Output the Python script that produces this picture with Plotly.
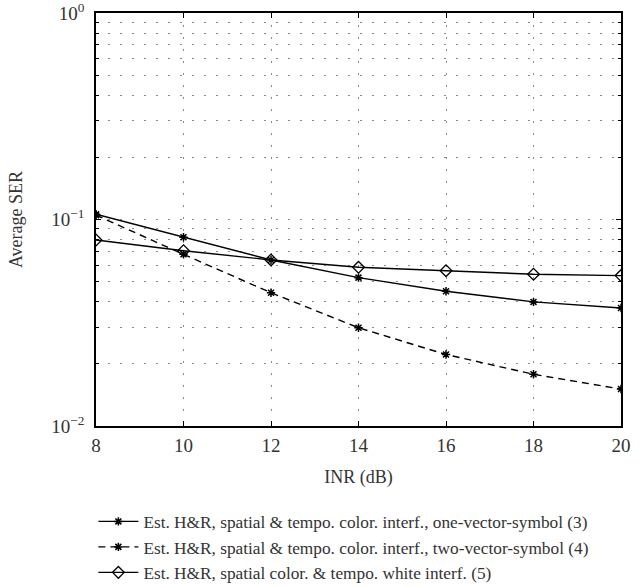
import plotly.graph_objects as go

inr = [8, 10, 12, 14, 16, 18, 20]
ser_one_vector = [0.106, 0.082, 0.0637, 0.0523, 0.0449, 0.0399, 0.0373]
ser_two_vector = [0.105, 0.0678, 0.0442, 0.0299, 0.0222, 0.0178, 0.0151]
ser_white = [0.0796, 0.0706, 0.0637, 0.0587, 0.0565, 0.0543, 0.0535]

names = [
    "Est. H&R, spatial & tempo. color. interf., one-vector-symbol (3)",
    "Est. H&R, spatial & tempo. color. interf., two-vector-symbol (4)",
    "Est. H&R, spatial color. & tempo. white interf. (5)",
]

y_major = [0.01, 0.1, 1]
y_major_labels = ["10<sup>\u22122</sup>", "10<sup>\u22121</sup>", "10<sup>0</sup>"]
y_minor = [m * d for d in (0.01, 0.1) for m in range(2, 10)]
x_ticks = [8, 10, 12, 14, 16, 18, 20]

FONT = "Liberation Serif"
TXT = "#333333"

fig = go.Figure()
fig.add_trace(go.Scatter(x=inr, y=ser_one_vector, name=names[0], mode="lines+markers",
                         line=dict(color="black", width=1.4),
                         marker=dict(symbol="asterisk-open", size=7, color="black",
                                     line=dict(color="black", width=1.5))))
fig.add_trace(go.Scatter(x=inr, y=ser_two_vector, name=names[1], mode="lines+markers",
                         line=dict(color="black", width=1.4, dash="7px,5px"),
                         marker=dict(symbol="asterisk-open", size=7, color="black",
                                     line=dict(color="black", width=1.5))))
fig.add_trace(go.Scatter(x=inr, y=ser_white, name=names[2], mode="lines+markers",
                         line=dict(color="black", width=1.4),
                         marker=dict(symbol="diamond-open", size=9, color="black",
                                     line=dict(color="black", width=1.3))))

grid = dict(showgrid=True, gridcolor="#8a8a8a", gridwidth=1, griddash="2px,10px")

fig.update_layout(
    width=642, height=587,
    margin=dict(l=96, r=21, t=13, b=161, autoexpand=False),
    paper_bgcolor="white", plot_bgcolor="white",
    font=dict(family=FONT, size=18, color=TXT),
    showlegend=True,
    legend=dict(x=-0.005, xanchor="left", yref="container", y=0.142, yanchor="top",
                font=dict(family=FONT, size=17.3, color=TXT),
                bgcolor="rgba(0,0,0,0)", tracegroupgap=0, itemwidth=40),
    xaxis=dict(range=[8, 20], tickvals=x_ticks, ticktext=[str(v) for v in x_ticks],
               ticks="inside", ticklen=5, tickcolor="black", mirror="ticks",
               showline=True, linecolor="black", linewidth=1.5, zeroline=False,
               automargin=False, ticklabelstandoff=1, ticklabeloverflow="allow",
               title=dict(text="INR (dB)", standoff=16, font=dict(size=18)),
               tickfont=dict(size=19), **grid),
    yaxis=dict(type="log", range=[-2, 0], tickvals=y_major, ticktext=y_major_labels,
               ticks="inside", ticklen=5, tickcolor="black", mirror="ticks",
               showline=True, linecolor="black", linewidth=1.5, zeroline=False,
               automargin=False, ticklabelstandoff=6, ticklabeloverflow="allow",
               title=dict(text="Average SER", standoff=24, font=dict(size=18)),
               tickfont=dict(size=19),
               minor=dict(tickvals=y_minor, ticks="inside", ticklen=3, tickcolor="black",
                          showgrid=True, gridcolor="#8a8a8a", gridwidth=1, griddash="2px,10px"),
               **grid),
)

fig.write_html(
    "out.html",
    config={"displayModeBar": False},
    post_script="document.body.style.margin='0';document.body.style.padding='0';"
                "document.documentElement.style.overflow='hidden';",
)
